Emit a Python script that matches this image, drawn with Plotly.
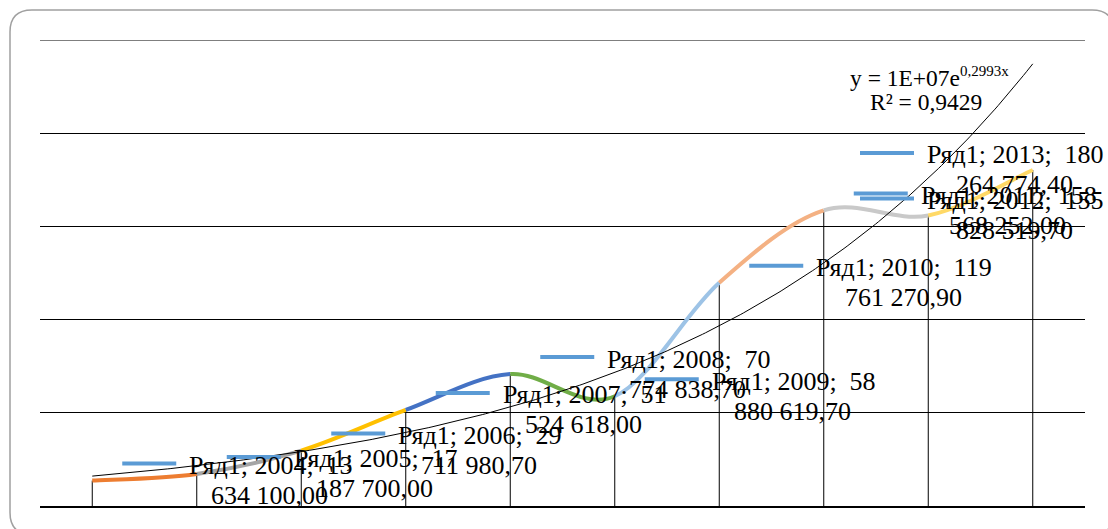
import numpy as np
import plotly.graph_objects as go

# ---- data -------------------------------------------------------------
series_name = "Ряд1"
years = [2004, 2005, 2006, 2007, 2008, 2009, 2010, 2011, 2012, 2013]
values = [13634100.00, 17187700.00, 29711980.70, 51524618.00, 70774838.70,
          58880619.70, 119761270.90, 158568252.00, 155828519.70, 180264774.40]

# colour of each point (and of the segment that ends at it)
point_colors = ["#5B9BD5", "#ED7D31", "#A5A5A5", "#FFC000", "#4472C4",
                "#70AD47", "#9DC3E6", "#F4B183", "#C9C9C9", "#FFD966"]

# ---- geometry / styles ------------------------------------------------
FIG_W, FIG_H = 1108, 529
M_L, M_R, M_T, M_B = 40, 23, 40, 22.5
PLOT_W = FIG_W - M_L - M_R
PLOT_H = FIG_H - M_T - M_B
X_RANGE = [0.5, 10.5]
Y_RANGE = [0, 250e6]

FONT = "Liberation Serif, Times New Roman, serif"
LABEL_SIZE = 26
KEY_COLOR = "#5B9BD5"
KEY_LEN, KEY_GAP, LABEL_OFFSET = 54, 11, 30
LINE_PITCH = 30
# labels that would leave the chart area are pulled back inside
label_key_left_override = {8: 860, 9: 860}

xs = list(range(1, len(years) + 1))


def x_pix(x):
    return M_L + (x - X_RANGE[0]) / (X_RANGE[1] - X_RANGE[0]) * PLOT_W


def paper_x(px):
    return (px - M_L) / PLOT_W


def paper_y(py):
    return (FIG_H - M_B - py) / PLOT_H


CHAR_EM = {" ": 0.25, ";": 0.278, ",": 0.25, "Р": 0.556, "я": 0.5, "д": 0.5}


def text_width(s, size):
    return sum(CHAR_EM.get(ch, 0.5) for ch in s) * size


def fmt_value(v):
    return f"{v:,.2f}".replace(",", " ").replace(".", ",")


# ---- exponential trendline (least squares on ln y) ---------------------
lx = np.array(xs, dtype=float)
ly = np.log(np.array(values))
k, b = np.polyfit(lx, ly, 1)
a = np.exp(b)
fit = k * lx + b
r2 = 1 - np.sum((ly - fit) ** 2) / np.sum((ly - ly.mean()) ** 2)
xt = np.linspace(1, 10, 300)
yt = a * np.exp(k * xt)

fig = go.Figure()
fig.add_trace(go.Scatter(x=xt, y=yt, mode="lines",
                         line=dict(color="black", width=1),
                         hoverinfo="skip", showlegend=False))

shapes = []

# top gridline at the end of the value range
shapes.append(dict(type="line", xref="paper", yref="y", x0=0, x1=1,
                   y0=Y_RANGE[1], y1=Y_RANGE[1],
                   line=dict(color="black", width=1), layer="between"))

# drop lines from the axis to every point
for x, v in zip(xs, values):
    shapes.append(dict(type="line", xref="x", yref="y", x0=x, x1=x, y0=0, y1=v,
                       line=dict(color="black", width=1), layer="between"))

# smoothed line, one Bezier segment per colour
n = len(values)
for i in range(n - 1):
    p0 = (xs[max(i - 1, 0)], values[max(i - 1, 0)])
    p1 = (xs[i], values[i])
    p2 = (xs[i + 1], values[i + 1])
    p3 = (xs[min(i + 2, n - 1)], values[min(i + 2, n - 1)])
    c1 = (p1[0] + (p2[0] - p0[0]) / 6, p1[1] + (p2[1] - p0[1]) / 6)
    c2 = (p2[0] - (p3[0] - p1[0]) / 6, p2[1] - (p3[1] - p1[1]) / 6)
    path = (f"M {p1[0]:.4f},{p1[1]:.2f} C {c1[0]:.4f},{c1[1]:.2f} "
            f"{c2[0]:.4f},{c2[1]:.2f} {p2[0]:.4f},{p2[1]:.2f}")
    shapes.append(dict(type="path", xref="x", yref="y", path=path,
                       line=dict(color=point_colors[i + 1], width=4),
                       layer="between"))

# data labels: legend key + "series; category; value" in two lines
annotations = []
for i, (x, yr, v) in enumerate(zip(xs, years, values)):
    first, rest = fmt_value(v).split(" ", 1)
    line1 = f"{series_name}; {yr};  {first}"
    line2 = rest
    px = x_pix(x)
    key_left = label_key_left_override.get(i, px + LABEL_OFFSET)
    dx_key = key_left - px
    dx_text = dx_key + KEY_LEN + KEY_GAP
    w1 = text_width(line1, LABEL_SIZE)
    shapes.append(dict(type="line", xref="x", yref="y",
                       xsizemode="pixel", xanchor=x, x0=dx_key, x1=dx_key + KEY_LEN,
                       ysizemode="pixel", yanchor=v, y0=17, y1=17,
                       line=dict(color=KEY_COLOR, width=4), layer="above"))
    annotations.append(dict(x=x, y=v, xref="x", yref="y", text=line1,
                            showarrow=False, xanchor="left", yanchor="middle",
                            xshift=dx_text, yshift=LINE_PITCH / 2,
                            font=dict(family=FONT, size=LABEL_SIZE, color="black")))
    annotations.append(dict(x=x, y=v, xref="x", yref="y", text=line2,
                            showarrow=False, xanchor="center", yanchor="middle",
                            xshift=dx_text + w1 / 2, yshift=-LINE_PITCH / 2,
                            font=dict(family=FONT, size=LABEL_SIZE, color="black")))

# trendline equation
eq_text = (f"y = {a:.0E}e<sup><span style='font-size:15px'>{k:.4f}x</span></sup>"
           .replace(".", ","))
r2_text = f"R² = {r2:.4f}".replace(".", ",")
annotations.append(dict(x=paper_x(929), y=paper_y(77), xref="paper", yref="paper",
                        text=eq_text, showarrow=False, xanchor="center",
                        yanchor="middle",
                        font=dict(family=FONT, size=23.5, color="black")))
annotations.append(dict(x=paper_x(926), y=paper_y(102), xref="paper", yref="paper",
                        text=r2_text, showarrow=False, xanchor="center",
                        yanchor="middle",
                        font=dict(family=FONT, size=23.5, color="black")))

# rounded chart-area border
bx0, by0, bx1, by1, r = 10, 10, 1114, 535, 22
border = (f"M {paper_x(bx0 + r)},{paper_y(by0)} L {paper_x(bx1 - r)},{paper_y(by0)} "
          f"Q {paper_x(bx1)},{paper_y(by0)} {paper_x(bx1)},{paper_y(by0 + r)} "
          f"L {paper_x(bx1)},{paper_y(by1 - r)} "
          f"Q {paper_x(bx1)},{paper_y(by1)} {paper_x(bx1 - r)},{paper_y(by1)} "
          f"L {paper_x(bx0 + r)},{paper_y(by1)} "
          f"Q {paper_x(bx0)},{paper_y(by1)} {paper_x(bx0)},{paper_y(by1 - r)} "
          f"L {paper_x(bx0)},{paper_y(by0 + r)} "
          f"Q {paper_x(bx0)},{paper_y(by0)} {paper_x(bx0 + r)},{paper_y(by0)} Z")
shapes.append(dict(type="path", xref="paper", yref="paper", path=border,
                   line=dict(color="#A0A0A0", width=1.5), layer="below"))

fig.update_layout(
    width=FIG_W, height=FIG_H,
    margin=dict(l=M_L, r=M_R, t=M_T, b=M_B, pad=0),
    paper_bgcolor="white", plot_bgcolor="white",
    showlegend=False,
    shapes=shapes, annotations=annotations,
    xaxis=dict(range=X_RANGE, showgrid=False, showticklabels=False, ticks="",
               zeroline=False, showline=True, linecolor="black", linewidth=1.5,
               fixedrange=True),
    yaxis=dict(range=Y_RANGE, dtick=50e6, tick0=0, showgrid=True,
               gridcolor="black", gridwidth=1, showticklabels=False, ticks="",
               zeroline=False, showline=False, fixedrange=True),
)

fig.write_html("out.html")
